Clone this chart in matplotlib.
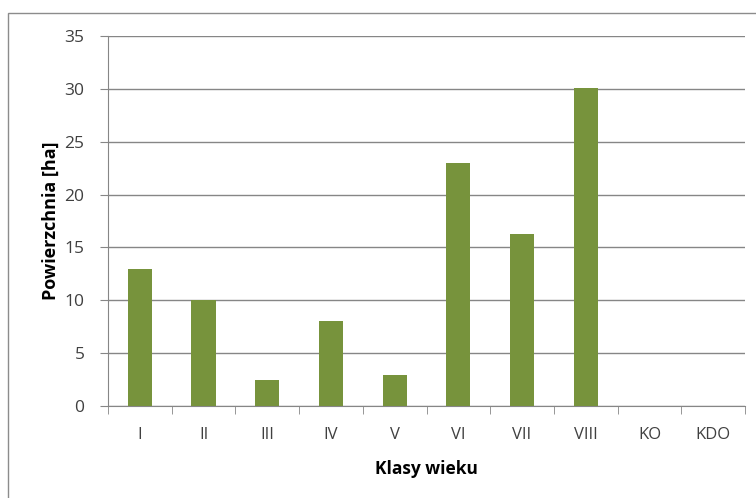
import numpy as np
import matplotlib.pyplot as plt
from matplotlib.patches import Rectangle

# age classes and area in hectares
categories = ['I', 'II', 'III', 'IV', 'V', 'VI', 'VII', 'VIII', 'KO', 'KDO']
area_ha = [13.0, 10.0, 2.5, 8.0, 2.9, 23.0, 16.3, 30.1, 0.0, 0.0]

W, H = 756, 498
bar_color = '#77933C'
grid_color = '#868686'
text_color = '#404040'

plt.rcParams['font.family'] = ['Open Sans', 'DejaVu Sans']

fig = plt.figure(figsize=(W / 100, H / 100), dpi=100)
ax = fig.add_axes([108 / W, 1 - 406 / H, (745 - 108) / W, (406 - 36) / H])

# outer chart border
fig.patches.append(Rectangle((8 / W, -0.1), 1.2, 1 - 13 / H + 0.1,
                             transform=fig.transFigure, fill=False,
                             edgecolor='#8c8c8c', linewidth=1.0))

x = np.arange(len(categories))
ax.bar(x, area_ha, width=0.38, color=bar_color, zorder=3)

ax.set_xlim(-0.5, len(categories) - 0.5)
ax.set_ylim(0, 35)
ax.set_yticks(np.arange(0, 36, 5))
ax.yaxis.grid(True, color=grid_color, linewidth=1.0, zorder=0)

ax.set_xticks(x)
ax.set_xticklabels(categories)
ax.set_xticks(np.arange(-0.5, len(categories)), minor=True)
ax.tick_params(axis='x', which='major', length=0, pad=15,
               labelsize=12, labelcolor=text_color)
ax.tick_params(axis='x', which='minor', length=6, color=grid_color)
ax.tick_params(axis='y', length=6, color=grid_color, pad=11,
               labelsize=12.5, labelcolor=text_color)

for side in ['top', 'right']:
    ax.spines[side].set_visible(False)
for side in ['left', 'bottom']:
    ax.spines[side].set_color(grid_color)

ax.set_xlabel('Klasy wieku', fontsize=12.5, fontweight='bold', labelpad=12)
ax.set_ylabel('Powierzchnia [ha]', fontsize=13, fontweight='bold', labelpad=3)

fig.savefig('out.png', dpi=100)
